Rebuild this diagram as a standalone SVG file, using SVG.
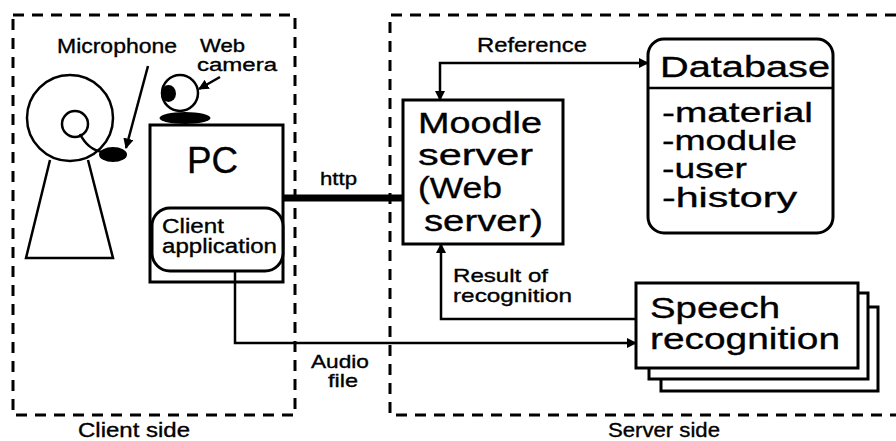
<svg xmlns="http://www.w3.org/2000/svg" width="896" height="441" viewBox="0 0 896 441">
  <style>
    .t { font-family: "Liberation Sans", Arial, sans-serif; fill: #000; stroke: #000; stroke-width: 0.35; }
    .box { fill: #fff; stroke: #000; stroke-width: 3; }
    .ln { fill: none; stroke: #000; stroke-width: 2.5; }
    .dash { fill: none; stroke: #000; stroke-width: 3; stroke-dasharray: 11 8; }
  </style>
  <defs>
    <marker id="arr" viewBox="0 0 10 10" refX="9" refY="5" markerWidth="4.2" markerHeight="4.2" orient="auto-start-reverse" markerUnits="strokeWidth">
      <path d="M0,0 L10,5 L0,10 z" fill="#000"/>
    </marker>
  </defs>

  <!-- regions -->
  <g id="client-side">
    <rect class="dash" x="13" y="15" width="282" height="400"/>
    <text class="t" x="78" y="437" font-size="20" textLength="112" lengthAdjust="spacingAndGlyphs">Client side</text>
  </g>
  <g id="server-side">
    <path class="dash" d="M896,15 H390 V415 H896"/>
    <text class="t" x="608" y="437" font-size="20" textLength="112" lengthAdjust="spacingAndGlyphs">Server side</text>
  </g>

  <!-- user with microphone -->
  <g id="user">
    <circle class="ln" cx="70" cy="118" r="43"/>
    <circle class="ln" cx="75" cy="124" r="13"/>
    <path class="ln" d="M50,160 L26,258 H113 L88,160"/>
    <path class="ln" d="M80,134 Q88,150 103,152"/>
    <ellipse cx="113" cy="154.5" rx="14" ry="7.5" fill="#000"/>
    <text class="t" x="57" y="53" font-size="20" textLength="120" lengthAdjust="spacingAndGlyphs">Microphone</text>
  </g>

  <!-- web camera -->
  <g id="webcam">
    <ellipse cx="185" cy="118" rx="25.5" ry="6" fill="#000"/>
    <circle class="ln" cx="180" cy="93" r="18"/>
    <ellipse cx="168.5" cy="93.5" rx="7.5" ry="8.5" fill="#000"/>
    <text class="t" x="200" y="52" font-size="18" textLength="45" lengthAdjust="spacingAndGlyphs">Web</text>
    <text class="t" x="197" y="71" font-size="18" textLength="80" lengthAdjust="spacingAndGlyphs">camera</text>
  </g>

  <!-- PC -->
  <g id="pc">
    <rect class="box" x="150" y="125" width="133" height="157"/>
    <text class="t" x="187" y="173" font-size="37" textLength="51" lengthAdjust="spacingAndGlyphs">PC</text>
  </g>
  <g id="client-app">
    <rect class="box" x="152" y="208" width="131" height="63" rx="18"/>
    <text class="t" x="162" y="233" font-size="20" textLength="62" lengthAdjust="spacingAndGlyphs">Client</text>
    <text class="t" x="162" y="253" font-size="20" textLength="115" lengthAdjust="spacingAndGlyphs">application</text>
  </g>

  <!-- Moodle server -->
  <g id="moodle">
    <rect class="box" x="403" y="100" width="160" height="144"/>
    <text class="t" x="418" y="133" font-size="29" textLength="124" lengthAdjust="spacingAndGlyphs">Moodle</text>
    <text class="t" x="418" y="165" font-size="29" textLength="115" lengthAdjust="spacingAndGlyphs">server</text>
    <text class="t" x="418" y="198" font-size="29" textLength="84" lengthAdjust="spacingAndGlyphs">(Web</text>
    <text class="t" x="424" y="231" font-size="29" textLength="119" lengthAdjust="spacingAndGlyphs">server)</text>
  </g>

  <!-- Database -->
  <g id="database">
    <rect class="box" x="648" y="39" width="185" height="194" rx="16"/>
    <line class="ln" x1="648" y1="88" x2="833" y2="88"/>
    <text class="t" x="660" y="77" font-size="30" textLength="170" lengthAdjust="spacingAndGlyphs">Database</text>
    <text class="t" x="662" y="122" font-size="28" textLength="151" lengthAdjust="spacingAndGlyphs">-material</text>
    <text class="t" x="662" y="150" font-size="28" textLength="135" lengthAdjust="spacingAndGlyphs">-module</text>
    <text class="t" x="662" y="178" font-size="28" textLength="85" lengthAdjust="spacingAndGlyphs">-user</text>
    <text class="t" x="662" y="207" font-size="28" textLength="135" lengthAdjust="spacingAndGlyphs">-history</text>
  </g>

  <!-- Speech recognition (stacked) -->
  <g id="speech">
    <rect class="box" x="661" y="307" width="217" height="84"/>
    <rect class="box" x="649" y="293" width="219" height="86"/>
    <rect class="box" x="636" y="283" width="222" height="85"/>
    <text class="t" x="650" y="318" font-size="30" textLength="130" lengthAdjust="spacingAndGlyphs">Speech</text>
    <text class="t" x="650" y="349" font-size="30" textLength="190" lengthAdjust="spacingAndGlyphs">recognition</text>
  </g>

  <!-- connectors -->
  <g id="connectors">
    <line class="ln" x1="148" y1="66" x2="126" y2="148" marker-end="url(#arr)"/>
    <line class="ln" x1="220" y1="77" x2="199" y2="89" marker-end="url(#arr)"/>
    <line x1="283" y1="198" x2="403" y2="198" stroke="#000" stroke-width="7"/>
    <path class="ln" d="M235,271 V343 H636" marker-end="url(#arr)"/>
    <path class="ln" d="M648,63 H440 V100" marker-start="url(#arr)" marker-end="url(#arr)"/>
    <path class="ln" d="M636,319 H441 V244" marker-end="url(#arr)"/>
  </g>

  <!-- connector labels -->
  <g id="labels">
    <text class="t" x="320" y="185" font-size="18" textLength="37" lengthAdjust="spacingAndGlyphs">http</text>
    <text class="t" x="477" y="52" font-size="21" textLength="110" lengthAdjust="spacingAndGlyphs">Reference</text>
    <text class="t" x="453" y="282" font-size="19" textLength="95" lengthAdjust="spacingAndGlyphs">Result of</text>
    <text class="t" x="453" y="302" font-size="19" textLength="119" lengthAdjust="spacingAndGlyphs">recognition</text>
    <text class="t" x="311" y="368" font-size="19" textLength="58" lengthAdjust="spacingAndGlyphs">Audio</text>
    <text class="t" x="328" y="387" font-size="19" textLength="30" lengthAdjust="spacingAndGlyphs">file</text>
  </g>
</svg>
